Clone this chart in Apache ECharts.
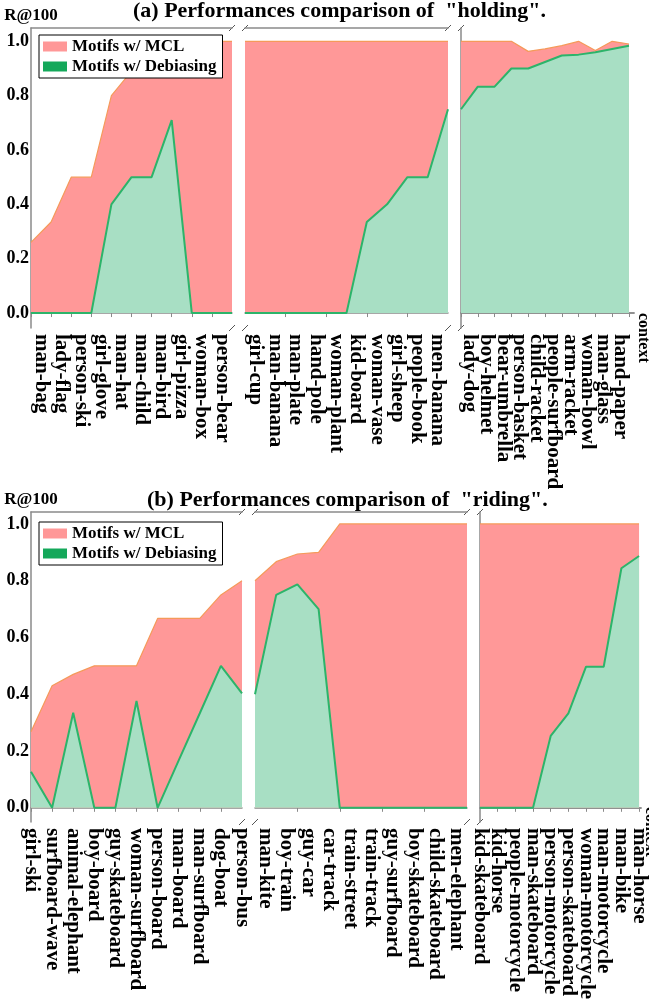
<!DOCTYPE html>
<html>
<head>
<meta charset="utf-8">
<script src="https://cdn.jsdelivr.net/npm/echarts@6.0.0/dist/echarts.min.js"></script>
<style>
html, body { margin: 0; padding: 0; background: #fff; }
#chart { width: 649px; height: 1004px; }
</style>
</head>
<body>
<div id="chart"></div>
<script>
var chart = echarts.init(document.getElementById('chart'));

var MCL_NAME = 'Motifs w/ MCL';
var DEB_NAME = 'Motifs w/ Debiasing';

// (a) holding
var holdLabels1 = ['man-bag', 'lady-flag', 'person-ski', 'girl-glove', 'man-hat', 'man-child', 'man-bird', 'girl-pizza', 'woman-box', 'person-bear'];
var holdMcl1 = [0.26, 0.335, 0.5, 0.5, 0.8, 0.89, 0.95, 1.0, 1.0, 1.0, 1.0];
var holdDeb1 = [0, 0, 0, 0, 0.40, 0.50, 0.50, 0.71, 0, 0, 0];

var holdLabels2 = ['girl-cup', 'man-banana', 'man-plate', 'hand-pole', 'woman-plant', 'kid-board', 'woman-vase', 'girl-sheep', 'people-book', 'men-banana'];
var holdMcl2 = [1, 1, 1, 1, 1, 1, 1, 1, 1, 1, 1];
var holdDeb2 = [0, 0, 0, 0, 0, 0, 0.335, 0.40, 0.50, 0.50, 0.75];

var holdLabels3 = ['lady-dog', 'boy-helmet', 'bear-umbrella', 'person-basket', 'child-racket', 'people-surfboard', 'arm-racket', 'woman-bowl', 'man-glass', 'hand-paper'];
var holdMcl3 = [1.0, 1.0, 1.0, 1.0, 0.963, 0.972, 0.984, 1.0, 0.966, 1.0, 0.99];
var holdDeb3 = [0.75, 0.833, 0.833, 0.90, 0.90, 0.924, 0.948, 0.951, 0.96, 0.972, 0.984];

// (b) riding
var rideLabels1 = ['girl-ski', 'surfboard-wave', 'animal-elephant', 'boy-board', 'guy-skateboard', 'woman-surfboard', 'person-board', 'man-board', 'man-surfboard', 'dog-boat', 'person-bus'];
var rideMcl1 = [0.268, 0.43, 0.47, 0.50, 0.50, 0.50, 0.667, 0.667, 0.667, 0.75, 0.80];
var rideDeb1 = [0.127, 0, 0.335, 0, 0, 0.376, 0, 0.167, 0.333, 0.50, 0.403];

var rideLabels2 = ['man-kite', 'boy-train', 'guy-car', 'car-track', 'train-street', 'train-track', 'guy-surfboard', 'boy-skateboard', 'child-skateboard', 'men-elephant'];
var rideMcl2 = [0.80, 0.867, 0.894, 0.90, 1, 1, 1, 1, 1, 1, 1];
var rideDeb2 = [0.40, 0.75, 0.787, 0.70, 0, 0, 0, 0, 0, 0, 0];

var rideLabels3 = ['kid-skateboard', 'kid-horse', 'people-motorcycle', 'man-skateboard', 'person-motorcycle', 'person-skateboard', 'woman-motorcycle', 'man-motorcycle', 'man-bike', 'man-horse'];
var rideMcl3 = [1, 1, 1, 1, 1, 1, 1, 1, 1, 1];
var rideDeb3 = [0, 0, 0, 0, 0.253, 0.333, 0.497, 0.497, 0.844, 0.887];

var yTicks = [0, 0.2, 0.4, 0.6, 0.8, 1.0];

var FONT = 'Liberation Serif';
var RED_FILL = '#ff9898';
var RED_LINE = '#f59a5a';
var GREEN_FILL = '#a8dfc4';
var GREEN_LINE = '#2cb46a';
var GREEN_KEY = '#14a85a';
var FRAME = '#8a8a8a';

function range(a, b, step) {
    var out = [];
    for (var v = a; v <= b; v += step) out.push(v);
    return out;
}

var panels = [
    {
        title: '(a) Performances comparison of  "holding".', titleLeft: 133, titleTop: 0,
        top: 28, height: 300, yMin: -0.055, yMax: 1.049, legendTop: 35,
        subs: [
            { left: 31, width: 201, max: 10, labels: holdLabels1, mcl: holdMcl1, deb: holdDeb1, shift: 0.5, ticks: range(0, 9, 1) },
            { left: 245, width: 203, max: 10, labels: holdLabels2, mcl: holdMcl2, deb: holdDeb2, shift: 0.5, ticks: range(2, 8, 2) },
            { left: 461, width: 173, max: 10.3, labels: holdLabels3, mcl: holdMcl3, deb: holdDeb3, shift: 0.5, ticks: range(0, 10, 1) }
        ]
    },
    {
        title: '(b) Performances comparison of  "riding".', titleLeft: 147, titleTop: 489,
        top: 512, height: 310, yMin: -0.050, yMax: 1.042, legendTop: 522,
        subs: [
            { left: 31, width: 211, max: 10, labels: rideLabels1, mcl: rideMcl1, deb: rideDeb1, shift: 0, ticks: range(0, 9, 1) },
            { left: 255, width: 212, max: 10, labels: rideLabels2, mcl: rideMcl2, deb: rideDeb2, shift: 0.5, ticks: range(2, 8, 2) },
            { left: 480, width: 161, max: 9.11, labels: rideLabels3, mcl: rideMcl3, deb: rideDeb3, shift: 0, ticks: range(1, 9, 1) }
        ]
    }
];

var grids = [], xAxes = [], yAxes = [], series = [], graphics = [], legends = [], titles = [];

panels.forEach(function (p) {
    titles.push({
        text: p.title, left: p.titleLeft, top: p.titleTop, padding: 0,
        textStyle: { fontFamily: FONT, fontWeight: 'bold', fontSize: 22, color: '#000' }
    });
    legends.push({
        orient: 'vertical', left: 39, top: p.legendTop,
        backgroundColor: '#fff', borderColor: '#000', borderWidth: 1, borderRadius: 0,
        padding: [3, 6, 3, 4], itemGap: 3, itemWidth: 24, itemHeight: 10,
        textStyle: { fontFamily: FONT, fontWeight: 'bold', fontSize: 17, color: '#000' },
        data: [
            { name: MCL_NAME, icon: 'rect', itemStyle: { color: RED_FILL } },
            { name: DEB_NAME, icon: 'rect', itemStyle: { color: GREEN_KEY } }
        ]
    });
    p.subs.forEach(function (s, si) {
        var gi = grids.length;
        var first = si === 0, last = si === p.subs.length - 1;
        grids.push({ left: s.left, top: p.top, width: s.width, height: p.height, outerBoundsMode: 'none' });

        // blank labels near both ends keep the min/max label check from hiding real names
        var realVals = s.labels.map(function (_, k) { return k + s.shift; });
        var labelVals = [0.001].concat(realVals, [s.max - 0.001]);
        var xi = xAxes.length;
        xAxes.push({
            type: 'value', gridIndex: gi, position: 'bottom', min: 0, max: s.max,
            axisLine: { show: true, lineStyle: { color: FRAME, width: 1.5 } },
            axisTick: { show: true, customValues: s.ticks, length: 4, lineStyle: { color: FRAME } },
            axisLabel: {
                customValues: labelVals,
                formatter: function (v) {
                    for (var k = 0; k < realVals.length; k++) {
                        if (Math.abs(v - realVals[k]) < 1e-6) return s.labels[k];
                    }
                    return '';
                },
                rotate: -90, margin: 6, hideOverlap: false, showMinLabel: true, showMaxLabel: true,
                fontFamily: FONT, fontWeight: 'bold', fontSize: 21, color: '#000'
            },
            splitLine: { show: false }
        });
        xAxes.push({
            type: 'value', gridIndex: gi, position: 'top', min: 0, max: s.max,
            axisLine: { show: true, lineStyle: { color: FRAME, width: 1.5 } },
            axisTick: { show: false }, axisLabel: { show: false }, splitLine: { show: false }
        });

        var yi = yAxes.length;
        yAxes.push({
            type: 'value', gridIndex: gi, min: p.yMin, max: p.yMax,
            name: first ? 'R@100' : '', nameLocation: 'end', nameGap: 4,
            nameTextStyle: { fontFamily: FONT, fontWeight: 'bold', fontSize: 17, color: '#000' },
            axisLine: { show: first, lineStyle: { color: FRAME, width: 1.5 } },
            axisTick: { show: false },
            axisLabel: {
                show: first, customValues: yTicks, margin: 2, showMinLabel: true, showMaxLabel: true,
                formatter: function (v) { return v.toFixed(1); },
                fontFamily: FONT, fontWeight: 'bold', fontSize: 18, color: '#000'
            },
            splitLine: { show: false }
        });
        if (last) {
            yAxes.push({
                type: 'value', gridIndex: gi, position: 'right', min: p.yMin, max: p.yMax,
                axisLine: { show: true, lineStyle: { color: FRAME, width: 1.5 } },
                axisTick: { show: false }, axisLabel: { show: false }, splitLine: { show: false }
            });
            graphics.push({
                type: 'text', x: s.left + s.width + 9, y: p.top + p.height - 15, rotation: -Math.PI / 2,
                style: { text: 'context', font: 'bold 16px "Liberation Serif"', fill: '#000', textAlign: 'left', textVerticalAlign: 'middle' }
            });
        } else {
            var next = p.subs[si + 1];
            [s.left + s.width, next.left].forEach(function (bx) {
                [p.top, p.top + p.height].forEach(function (by) {
                    graphics.push({
                        type: 'line', shape: { x1: bx - 3, y1: by + 3, x2: bx + 3, y2: by - 3 },
                        style: { stroke: '#555', lineWidth: 1 }
                    });
                });
            });
        }

        series.push({
            name: MCL_NAME, type: 'line', xAxisIndex: xi, yAxisIndex: yi,
            data: s.mcl.map(function (v, k) { return [k, v]; }),
            symbol: 'none', lineStyle: { color: RED_LINE, width: 1.2 },
            itemStyle: { color: RED_FILL },
            areaStyle: { color: RED_FILL, opacity: 1 }
        });
        series.push({
            name: DEB_NAME, type: 'line', xAxisIndex: xi, yAxisIndex: yi,
            data: s.deb.map(function (v, k) { return [k, v]; }),
            symbol: 'none', lineStyle: { color: GREEN_LINE, width: 2 },
            itemStyle: { color: GREEN_KEY },
            areaStyle: { color: GREEN_FILL, opacity: 1 }
        });
    });
});

chart.setOption({
    animation: false,
    backgroundColor: '#fff',
    title: titles,
    legend: legends,
    grid: grids,
    xAxis: xAxes,
    yAxis: yAxes,
    series: series,
    graphic: graphics
});
</script>
</body>
</html>
